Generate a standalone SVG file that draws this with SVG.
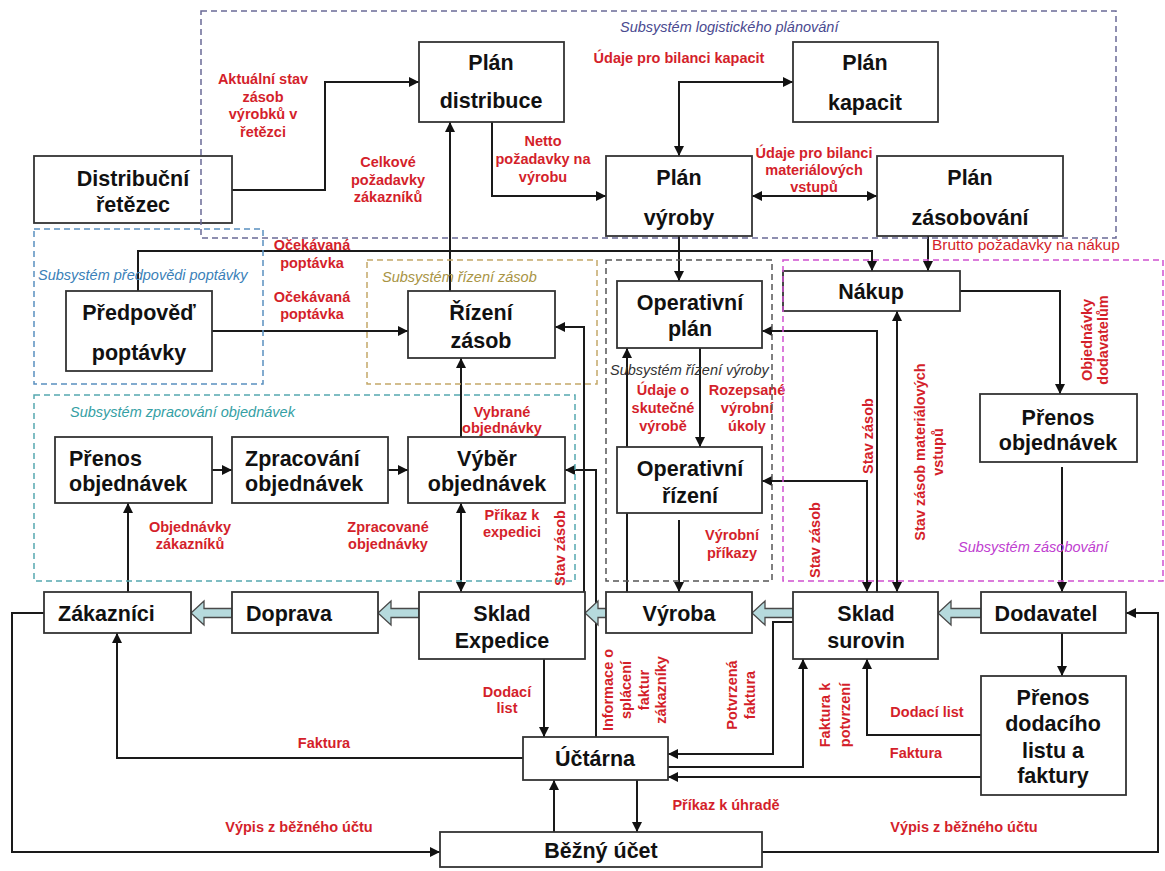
<svg xmlns="http://www.w3.org/2000/svg" width="1165" height="871" viewBox="0 0 1165 871">
  <style>
    .node rect { fill: #ffffff; stroke: #333333; stroke-width: 1.8; }
    .nt { font-family: "Liberation Sans", Arial, sans-serif; font-weight: bold; font-size: 21.5px; fill: #111111; text-anchor: middle; }
    .ntl { text-anchor: start; }
    .conn path { fill: none; stroke: #1a1a1a; stroke-width: 2; }
    .lbl { font-family: "Liberation Sans", Arial, sans-serif; font-weight: bold; font-size: 14.5px; fill: #d41f2b; text-anchor: middle; }
    .lbl-thin { font-family: "Liberation Sans", Arial, sans-serif; font-weight: normal; font-size: 15.5px; fill: #d41f2b; }
    .flow { fill: #b6dadd; stroke: #4a4a4a; stroke-width: 1.3; }
    .sub { fill: none; stroke-width: 1.5; stroke-dasharray: 6 4; }
    .subt { font-family: "Liberation Sans", Arial, sans-serif; font-style: italic; font-size: 14.5px; }
  </style>
  <defs>
    <marker id="ah" viewBox="0 0 10 10" refX="10" refY="5" markerWidth="11" markerHeight="10" markerUnits="userSpaceOnUse" orient="auto-start-reverse">
      <path d="M0,0 L10,5 L0,10 z" fill="#111111"/>
    </marker>
  </defs>

  <rect x="0" y="0" width="1165" height="871" fill="#ffffff"/>

  <!-- connectors -->
  <g id="connectors" class="conn">
    <path d="M232,190 H325 V82 H419" marker-end="url(#ah)"/>
    <path d="M450,291 V122" marker-end="url(#ah)"/>
    <path d="M492,122 V196 H606" marker-end="url(#ah)"/>
    <path d="M679,156 V82 H793" marker-start="url(#ah)" marker-end="url(#ah)"/>
    <path d="M752,196 H877" marker-start="url(#ah)" marker-end="url(#ah)"/>
    <path d="M679,236 V281" marker-end="url(#ah)"/>
    <path d="M138,291 V251 H872 V271" marker-end="url(#ah)"/>
    <path d="M212,331 H408" marker-end="url(#ah)"/>
    <path d="M928,236 V271" marker-end="url(#ah)"/>
    <path d="M960,291 H1060 V394" marker-end="url(#ah)"/>
    <path d="M1062,467 V592" marker-end="url(#ah)"/>
    <path d="M877,592 V331 H762" marker-end="url(#ah)"/>
    <path d="M867,592 V481 H762" marker-start="url(#ah)" marker-end="url(#ah)"/>
    <path d="M897,311 V592" marker-start="url(#ah)" marker-end="url(#ah)"/>
    <path d="M627,592 V348" marker-end="url(#ah)"/>
    <path d="M700,348 V447" marker-end="url(#ah)"/>
    <path d="M679,520 V592" marker-end="url(#ah)"/>
    <path d="M584,592 V327 H555" marker-end="url(#ah)"/>
    <path d="M596,737 V470 H565" marker-end="url(#ah)"/>
    <path d="M461,503 V592" marker-start="url(#ah)" marker-end="url(#ah)"/>
    <path d="M461,437 V358" marker-end="url(#ah)"/>
    <path d="M212,470 H232" marker-end="url(#ah)"/>
    <path d="M388,470 H408" marker-end="url(#ah)"/>
    <path d="M128,592 V503" marker-end="url(#ah)"/>
    <path d="M544,659 V737" marker-end="url(#ah)"/>
    <path d="M523,758 H117 V633" marker-end="url(#ah)"/>
    <path d="M44,613 H12 V852 H440" marker-end="url(#ah)"/>
    <path d="M762,852 H1158 V613 H1126" marker-end="url(#ah)"/>
    <path d="M554,832 V780" marker-end="url(#ah)"/>
    <path d="M637,780 V832" marker-end="url(#ah)"/>
    <path d="M793,622 H773 V754 H668" marker-end="url(#ah)"/>
    <path d="M668,767 H803 V659" marker-end="url(#ah)"/>
    <path d="M981,735 H867 V659" marker-end="url(#ah)"/>
    <path d="M981,777 H668" marker-end="url(#ah)"/>
    <path d="M1062,633 V676" marker-end="url(#ah)"/>
  </g>

  <!-- material flow (block arrows) -->
  <g id="material-flow">
    <polygon class="flow" points="232,608.5 204,608.5 204,601 191,613 204,625 204,617.5 232,617.5"/>
    <polygon class="flow" points="419,608.5 391,608.5 391,601 378,613 391,625 391,617.5 419,617.5"/>
    <polygon class="flow" points="606,608.5 598,608.5 598,601 585,613 598,625 598,617.5 606,617.5"/>
    <polygon class="flow" points="793,608.5 765,608.5 765,601 752,613 765,625 765,617.5 793,617.5"/>
    <polygon class="flow" points="981,608.5 951,608.5 951,601 938,613 951,625 951,617.5 981,617.5"/>
  </g>

  <!-- nodes -->
  <g id="distribucni-retezec" class="node">
    <rect x="34" y="156" width="198" height="67"/>
    <text class="nt" x="133" y="185.5">Distribuční</text>
    <text class="nt" x="133" y="211.5">řetězec</text>
  </g>
  <g id="plan-distribuce" class="node">
    <rect x="419" y="42" width="145" height="80"/>
    <text class="nt" x="491" y="69.5">Plán</text>
    <text class="nt" x="491" y="107.5">distribuce</text>
  </g>
  <g id="plan-kapacit" class="node">
    <rect x="793" y="42" width="145" height="80"/>
    <text class="nt" x="865" y="69.5">Plán</text>
    <text class="nt" x="865" y="109.5">kapacit</text>
  </g>
  <g id="plan-vyroby" class="node">
    <rect x="606" y="156" width="146" height="80"/>
    <text class="nt" x="679" y="184.5">Plán</text>
    <text class="nt" x="679" y="224.5">výroby</text>
  </g>
  <g id="plan-zasobovani" class="node">
    <rect x="877" y="156" width="186" height="80"/>
    <text class="nt" x="970" y="184.5">Plán</text>
    <text class="nt" x="970" y="224.5">zásobování</text>
  </g>
  <g id="predpoved-poptavky" class="node">
    <rect x="66" y="291" width="146" height="80"/>
    <text class="nt" x="139" y="319.5">Předpověď</text>
    <text class="nt" x="139" y="359.5">poptávky</text>
  </g>
  <g id="rizeni-zasob" class="node">
    <rect x="408" y="291" width="147" height="67"/>
    <text class="nt" x="481" y="319.5">Řízení</text>
    <text class="nt" x="481" y="347.5">zásob</text>
  </g>
  <g id="operativni-plan" class="node">
    <rect x="617" y="281" width="145" height="67"/>
    <text class="nt" x="690" y="309.5">Operativní</text>
    <text class="nt" x="690" y="335.5">plán</text>
  </g>
  <g id="operativni-rizeni" class="node">
    <rect x="617" y="447" width="145" height="66"/>
    <text class="nt" x="690" y="475.5">Operativní</text>
    <text class="nt" x="690" y="502.5">řízení</text>
  </g>
  <g id="nakup" class="node">
    <rect x="783" y="271" width="177" height="40"/>
    <text class="nt" x="871" y="298.5">Nákup</text>
  </g>
  <g id="prenos-objednavek-dodavatel" class="node">
    <rect x="980" y="394" width="157" height="68"/>
    <text class="nt" x="1058" y="424.5">Přenos</text>
    <text class="nt" x="1058" y="449.5">objednávek</text>
  </g>
  <g id="prenos-objednavek-zakaznik" class="node">
    <rect x="55" y="437" width="157" height="66"/>
    <text class="nt ntl" x="69" y="465.5">Přenos</text>
    <text class="nt ntl" x="69" y="490.5">objednávek</text>
  </g>
  <g id="zpracovani-objednavek" class="node">
    <rect x="232" y="437" width="156" height="66"/>
    <text class="nt ntl" x="245" y="465.5">Zpracování</text>
    <text class="nt ntl" x="245" y="490.5">objednávek</text>
  </g>
  <g id="vyber-objednavek" class="node">
    <rect x="408" y="437" width="157" height="66"/>
    <text class="nt" x="487" y="465.5">Výběr</text>
    <text class="nt" x="487" y="490.5">objednávek</text>
  </g>
  <g id="zakaznici" class="node">
    <rect x="44" y="592" width="147" height="41"/>
    <text class="nt ntl" x="58" y="620.5">Zákazníci</text>
  </g>
  <g id="doprava" class="node">
    <rect x="232" y="592" width="146" height="41"/>
    <text class="nt ntl" x="246" y="620.5">Doprava</text>
  </g>
  <g id="sklad-expedice" class="node">
    <rect x="419" y="592" width="166" height="67"/>
    <text class="nt" x="502" y="620.5">Sklad</text>
    <text class="nt" x="502" y="647.5">Expedice</text>
  </g>
  <g id="vyroba" class="node">
    <rect x="606" y="592" width="146" height="41"/>
    <text class="nt" x="679" y="620.5">Výroba</text>
  </g>
  <g id="sklad-surovin" class="node">
    <rect x="793" y="592" width="145" height="67"/>
    <text class="nt" x="866" y="620.5">Sklad</text>
    <text class="nt" x="866" y="647.5">surovin</text>
  </g>
  <g id="dodavatel" class="node">
    <rect x="981" y="592" width="145" height="41"/>
    <text class="nt" x="1046" y="620.5">Dodavatel</text>
  </g>
  <g id="prenos-dodaciho-listu" class="node">
    <rect x="981" y="676" width="145" height="119"/>
    <text class="nt" x="1053" y="704.5">Přenos</text>
    <text class="nt" x="1053" y="730.5">dodacího</text>
    <text class="nt" x="1053" y="757.5">listu a</text>
    <text class="nt" x="1053" y="782.5">faktury</text>
  </g>
  <g id="uctarna" class="node">
    <rect x="523" y="737" width="145" height="43"/>
    <text class="nt" x="595" y="765.5">Účtárna</text>
  </g>
  <g id="bezny-ucet" class="node">
    <rect x="440" y="832" width="322" height="35"/>
    <text class="nt" x="601" y="857.5">Běžný účet</text>
  </g>

  <!-- connector labels -->
  <g id="labels">
    <text class="lbl"><tspan x="263" y="84">Aktuální stav</tspan><tspan x="263" y="101.5">zásob</tspan><tspan x="263" y="119">výrobků v</tspan><tspan x="263" y="136.5">řetězci</tspan></text>
    <text class="lbl"><tspan x="388" y="167">Celkové</tspan><tspan x="388" y="185">požadavky</tspan><tspan x="388" y="202">zákazníků</tspan></text>
    <text class="lbl"><tspan x="543" y="146">Netto</tspan><tspan x="543" y="164">požadavky na</tspan><tspan x="543" y="182">výrobu</tspan></text>
    <text class="lbl" x="679" y="63">Údaje pro bilanci kapacit</text>
    <text class="lbl"><tspan x="814" y="158">Údaje pro bilanci</tspan><tspan x="814" y="175">materiálových</tspan><tspan x="814" y="192">vstupů</tspan></text>
    <text class="lbl-thin" x="932" y="250">Brutto požadavky na nákup</text>
    <text class="lbl"><tspan x="312" y="250">Očekávaná</tspan><tspan x="312" y="268">poptávka</tspan></text>
    <text class="lbl"><tspan x="312" y="302">Očekávaná</tspan><tspan x="312" y="319">poptávka</tspan></text>
    <text class="lbl"><tspan x="502" y="417">Vybrané</tspan><tspan x="502" y="433">objednávky</tspan></text>
    <text class="lbl"><tspan x="663" y="395">Údaje o</tspan><tspan x="663" y="413">skutečné</tspan><tspan x="663" y="431">výrobě</tspan></text>
    <text class="lbl"><tspan x="747" y="395">Rozepsané</tspan><tspan x="747" y="413">výrobní</tspan><tspan x="747" y="431">úkoly</tspan></text>
    <text class="lbl"><tspan x="512" y="520">Příkaz k</tspan><tspan x="512" y="537">expedici</tspan></text>
    <text class="lbl"><tspan x="388" y="532">Zpracované</tspan><tspan x="388" y="549">objednávky</tspan></text>
    <text class="lbl"><tspan x="190" y="532">Objednávky</tspan><tspan x="190" y="549">zákazníků</tspan></text>
    <text class="lbl"><tspan x="732" y="540">Výrobní</tspan><tspan x="732" y="558">příkazy</tspan></text>
    <text class="lbl"><tspan x="507" y="697">Dodací</tspan><tspan x="507" y="713">list</tspan></text>
    <text class="lbl" x="324" y="748">Faktura</text>
    <text class="lbl" x="299" y="832">Výpis z běžného účtu</text>
    <text class="lbl" x="726" y="810">Příkaz k úhradě</text>
    <text class="lbl" x="964" y="832">Výpis z běžného účtu</text>
    <text class="lbl" x="927" y="717">Dodací list</text>
    <text class="lbl" x="916" y="758">Faktura</text>

    <text class="lbl" transform="translate(560,548) rotate(-90)"><tspan x="0" y="5">Stav zásob</tspan></text>
    <text class="lbl" transform="translate(608,690) rotate(-90)"><tspan x="0" y="5">Informace o</tspan><tspan x="0" y="23">splácení</tspan><tspan x="0" y="41">faktur</tspan><tspan x="0" y="58">zákazníky</tspan></text>
    <text class="lbl" transform="translate(732,695) rotate(-90)"><tspan x="0" y="5">Potvrzená</tspan><tspan x="0" y="23">faktura</tspan></text>
    <text class="lbl" transform="translate(825,715) rotate(-90)"><tspan x="0" y="5">Faktura k</tspan><tspan x="0" y="25">potvrzení</tspan></text>
    <text class="lbl" transform="translate(815,540) rotate(-90)"><tspan x="0" y="5">Stav zásob</tspan></text>
    <text class="lbl" transform="translate(868,436) rotate(-90)"><tspan x="0" y="5">Stav zásob</tspan></text>
    <text class="lbl" transform="translate(920,452) rotate(-90)"><tspan x="0" y="5">Stav zásob materiálových</tspan><tspan x="0" y="23">vstupů</tspan></text>
    <text class="lbl" transform="translate(1087,340) rotate(-90)"><tspan x="0" y="5">Objednávky</tspan><tspan x="0" y="21">dodavatelům</tspan></text>
  </g>

  <!-- subsystem frames -->
  <g id="subsystems">
    <rect class="sub" x="201" y="11" width="915" height="227" stroke="#6a6a96"/>
    <text class="subt" x="620" y="32" fill="#4a4a90">Subsystém logistického plánování</text>

    <rect class="sub" x="34" y="229" width="229" height="155" stroke="#5a90c0"/>
    <text class="subt" x="38" y="280" fill="#3a7fb8">Subsystém předpovědi poptávky</text>

    <rect class="sub" x="367" y="260" width="230" height="124" stroke="#c4a868"/>
    <text class="subt" x="382" y="282" fill="#a89444">Subsystém řízení zásob</text>

    <rect class="sub" x="606" y="260" width="166" height="321" stroke="#555555"/>
    <text class="subt" x="610" y="375" fill="#333333">Subsystém řízení výroby</text>

    <rect class="sub" x="34" y="395" width="541" height="186" stroke="#56a8b0"/>
    <text class="subt" x="70" y="417" fill="#34a0a4">Subsystém zpracování objednávek</text>

    <rect class="sub" x="783" y="260" width="380" height="321" stroke="#d050d0"/>
    <text class="subt" x="958" y="552" fill="#c040d0">Subsystém zásobování</text>
  </g>
</svg>
